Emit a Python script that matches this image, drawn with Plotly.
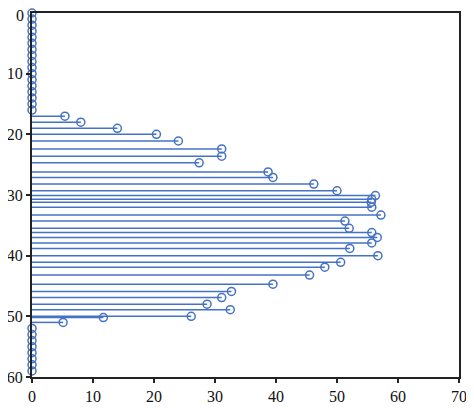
import plotly.graph_objects as go

# row positions (y) and stem lengths (x)
top_rows = list(range(0, 17))
top_vals = [0] * 17

mid_rows = [17.0, 18.0, 19.0, 20.0, 21.1, 22.4, 23.6, 24.7, 26.2, 27.1,
            28.2, 29.3, 30.1, 30.7, 31.2, 32.0, 33.3, 34.3, 35.5, 36.2,
            37.0, 37.9, 38.8, 40.0, 41.1, 41.9, 43.2, 44.7, 45.9, 46.9,
            48.0, 48.9, 50.0, 50.2, 51.0]
mid_vals = [5.4, 8.0, 14.0, 20.4, 24.0, 31.1, 31.1, 27.4, 38.7, 39.5,
            46.2, 50.0, 56.3, 55.7, 55.6, 55.7, 57.2, 51.3, 52.0, 55.7,
            56.6, 55.7, 52.1, 56.7, 50.6, 48.0, 45.5, 39.5, 32.7, 31.1,
            28.7, 32.5, 26.1, 11.7, 5.1]

bottom_rows = list(range(52, 60))
bottom_vals = [0] * 8

rows = top_rows + mid_rows + bottom_rows
vals = top_vals + mid_vals + bottom_vals

blue = '#4472C4'
font_family = 'Liberation Serif, Times New Roman, serif'

# stems from x=0 out to the value
sx, sy = [], []
for r, v in zip(rows, vals):
    if v > 0:
        sx += [0, v, None]
        sy += [r, r, None]

fig = go.Figure()
fig.add_trace(go.Scatter(x=sx, y=sy, mode='lines',
                         line=dict(color=blue, width=1.5),
                         hoverinfo='skip', showlegend=False))
fig.add_trace(go.Scatter(x=vals, y=rows, mode='markers',
                         marker=dict(symbol='circle-open', size=8,
                                     color=blue, line=dict(width=1.5)),
                         cliponaxis=False, showlegend=False))

axis_style = dict(showline=True, mirror=True, linecolor='#222', linewidth=2,
                  showgrid=False, zeroline=False, ticks='outside',
                  ticklen=4, tickcolor='#222', tickwidth=1.5, automargin=False)

# the top "0" label gets dropped by plotly at the paper edge, so add it by hand
fig.add_annotation(text='0', x=0, xref='paper', y=0, yref='y',
                   xanchor='right', yanchor='middle', xshift=-6, yshift=-2,
                   showarrow=False, font=dict(family=font_family, size=16, color='#111'))

# page body adds an 8px offset, so the figure is sized to fit the window
fig.update_layout(
    width=466, height=400,
    margin=dict(l=24, r=15, t=5, b=31),
    plot_bgcolor='white', paper_bgcolor='white',
    font=dict(family=font_family, size=16, color='#111'),
    xaxis=dict(range=[0, 70], dtick=10, **axis_style),
    yaxis=dict(range=[60, 0], tickvals=[10, 20, 30, 40, 50, 60], **axis_style),
)

fig.write_html("out.html")
